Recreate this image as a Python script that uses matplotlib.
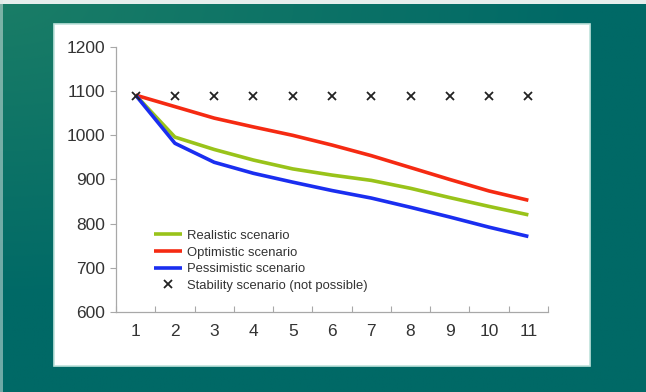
import numpy as np
import matplotlib
matplotlib.use("Agg")
import matplotlib.pyplot as plt

# Scenario values per period
periods = list(range(1, 12))
realistic = [1091, 996, 968, 944, 924, 910, 898, 880, 859, 839, 820]
optimistic = [1091, 1065, 1039, 1019, 1000, 978, 954, 927, 900, 874, 853]
pessimistic = [1091, 982, 939, 914, 894, 875, 858, 837, 815, 792, 771]
stability = [1090] * 11

labels = ["Realistic scenario", "Optimistic scenario",
          "Pessimistic scenario", "Stability scenario (not possible)"]
y_ticks = [600, 700, 800, 900, 1000, 1100, 1200]

W, H = 646, 392
fig = plt.figure(figsize=(W / 100, H / 100), dpi=100)

# Teal gradient backdrop
bg = fig.add_axes([0, 0, 1, 1])
yy, xx = np.mgrid[0:1:200j, 0:1:300j]
t = np.clip(1.0 - np.sqrt((xx * 1.1) ** 2 + (yy * 1.3) ** 2), 0, 1)
c_a = np.array([0x00, 0x69, 0x66]) / 255
c_b = np.array([0x1a, 0x7d, 0x66]) / 255
img = c_a[None, None, :] * (1 - t[..., None]) + c_b[None, None, :] * t[..., None]
bg.imshow(img, extent=[0, W, H, 0], aspect="auto", interpolation="bilinear")
# light edges along top and left
bg.add_patch(plt.Rectangle((0, 0), W, 4, color="#e6eeec", lw=0))
bg.add_patch(plt.Rectangle((0, 0), 3, H, color="#dfe9e6", lw=0, alpha=0.5))
# white panel
bg.add_patch(plt.Rectangle((54, 24), 536, 342, facecolor="white",
                           edgecolor="#bfe3dc", lw=1.2))
bg.set_xlim(0, W)
bg.set_ylim(H, 0)
bg.axis("off")

ax = fig.add_axes([116 / W, 1 - 312 / H, 432 / W, 265 / H])
ax.set_facecolor("none")

lw = 2.6
ax.plot(periods, realistic, color="#99c31a", lw=lw, solid_capstyle="butt", label=labels[0])
ax.plot(periods, optimistic, color="#f52a12", lw=lw, solid_capstyle="butt", label=labels[1])
ax.plot(periods, pessimistic, color="#1a2ef0", lw=lw, solid_capstyle="butt", label=labels[2])
ax.plot(periods, stability, linestyle="none", marker="x", ms=6, mew=1.3,
        color="#222222", label=labels[3], zorder=5)

ax.set_xlim(0.5, 11.5)
ax.set_ylim(600, 1200)
ax.set_yticks(y_ticks)
ax.set_xticks(periods)
ax.set_xticks(np.arange(0.5, 12, 1.0), minor=True)

for s in ("top", "right"):
    ax.spines[s].set_visible(False)
for s in ("left", "bottom"):
    ax.spines[s].set_color("#a8a8a8")
    ax.spines[s].set_linewidth(0.9)

ax.tick_params(axis="y", length=4, width=0.8, color="#a8a8a8",
               labelsize=12.5, labelcolor="#333333", pad=4)
ax.tick_params(axis="x", which="major", length=0, labelsize=12.5,
               labelcolor="#333333", pad=9)
ax.tick_params(axis="x", which="minor", direction="in", length=4,
               width=0.8, color="#a8a8a8")
for lab in ax.get_xticklabels() + ax.get_yticklabels():
    lab.set_family("Liberation Sans")

leg = ax.legend(loc="upper left", bbox_to_anchor=(0.075, 0.33),
                frameon=False, handlelength=2.2, handletextpad=0.35,
                labelspacing=0.35, borderaxespad=0,
                prop={"family": "Liberation Sans", "size": 9.4})
for txt in leg.get_texts():
    txt.set_color("#333333")

fig.savefig("out.png", dpi=100)
